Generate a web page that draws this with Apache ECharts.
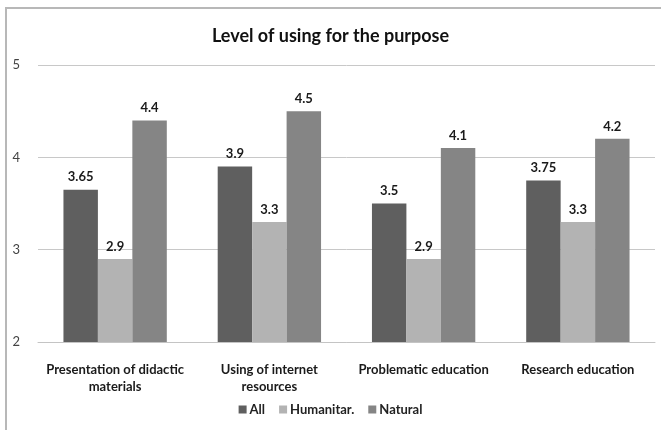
<!DOCTYPE html>
<html>
<head>
<meta charset="utf-8">
<script src="https://cdn.jsdelivr.net/npm/echarts@6/dist/echarts.min.js"></script>
<style>
  html, body { margin: 0; padding: 0; background: #fff; }
  #chart { width: 661px; height: 430px; }
</style>
</head>
<body>
<div id="chart"></div>
<script>
// Usage level per purpose, by group
const categories = ['Presentation of didactic\nmaterials', 'Using of internet\nresources', 'Problematic education', 'Research education'];
const allValues = [3.65, 3.9, 3.5, 3.75];
const humanitarValues = [2.9, 3.3, 2.9, 3.3];
const naturalValues = [4.4, 4.5, 4.1, 4.2];
const yTicks = [2, 3, 4, 5];

const font = 'Lato, "Open Sans", sans-serif';
const labelStyle = {
  show: true,
  position: 'top',
  distance: 6,
  fontFamily: font,
  fontWeight: 'bold',
  fontSize: 13,
  color: '#1a1a1a'
};

const chart = echarts.init(document.getElementById('chart'), null, { renderer: 'canvas' });
chart.setOption({
  backgroundColor: '#fff',
  animation: false,
  graphic: [{
    type: 'rect',
    shape: { x: 6, y: 8, width: 700, height: 460 },
    style: { fill: 'none', stroke: '#b8b8b8', lineWidth: 2 },
    silent: true
  }],
  title: {
    text: 'Level of using for the purpose',
    left: 'center',
    top: 22,
    textStyle: { fontFamily: font, fontWeight: 'bold', fontSize: 18, color: '#111' }
  },
  legend: {
    bottom: 9,
    left: 'center',
    itemWidth: 8,
    itemHeight: 8,
    itemGap: 14,
    icon: 'rect',
    textStyle: { fontFamily: font, fontWeight: 'bold', fontSize: 13, color: '#222', padding: [0, 0, 0, -2] },
    data: ['All', 'Humanitar.', 'Natural']
  },
  grid: { left: 38, right: 6, top: 65, bottom: 88, containLabel: false },
  xAxis: {
    type: 'category',
    data: categories,
    axisLine: { show: true, lineStyle: { color: '#c4c4c4', width: 1 } },
    axisTick: { show: false },
    axisLabel: {
      interval: 0,
      margin: 19,
      lineHeight: 17,
      fontFamily: font,
      fontWeight: 'bold',
      fontSize: 13,
      color: '#1a1a1a'
    }
  },
  yAxis: {
    type: 'value',
    min: yTicks[0],
    max: yTicks[yTicks.length - 1],
    interval: 1,
    axisLine: { show: false },
    axisTick: { show: false },
    splitLine: { lineStyle: { color: '#c8c8c8', width: 1 } },
    axisLabel: { margin: 18, fontFamily: font, fontSize: 13, color: '#444' }
  },
  series: [
    { name: 'All', type: 'bar', data: allValues, barGap: '0%', barCategoryGap: '33%',
      itemStyle: { color: '#5f5f5f' }, label: labelStyle },
    { name: 'Humanitar.', type: 'bar', data: humanitarValues,
      itemStyle: { color: '#b3b3b3' }, label: labelStyle },
    { name: 'Natural', type: 'bar', data: naturalValues,
      itemStyle: { color: '#858585' }, label: labelStyle }
  ]
});
</script>
</body>
</html>
